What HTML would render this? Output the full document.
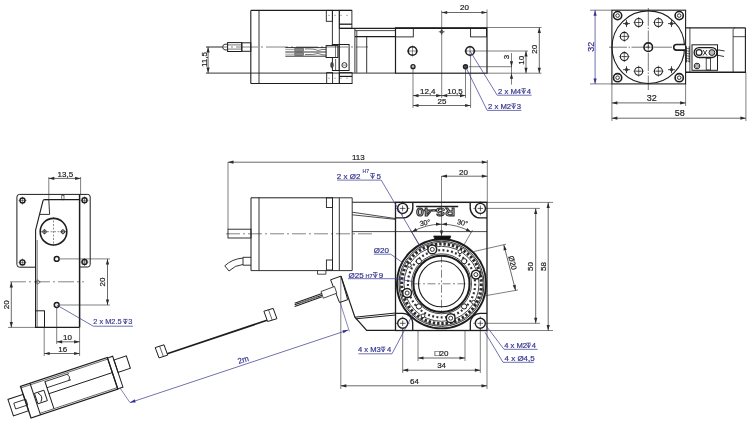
<!DOCTYPE html>
<html><head><meta charset="utf-8"><style>
html,body{margin:0;padding:0;background:#fff;width:750px;height:423px;overflow:hidden}
svg{display:block;will-change:transform}
text{font-family:"Liberation Sans",sans-serif}
</style></head><body>
<svg width="750" height="423" viewBox="0 0 750 423">
<rect width="750" height="423" fill="#fff"/>
<line x1="250.80" y1="10.40" x2="351.90" y2="10.40" stroke="#1e1e1e" stroke-width="1.1"/>
<line x1="250.80" y1="83.50" x2="352.10" y2="83.50" stroke="#1e1e1e" stroke-width="1.1"/>
<line x1="250.80" y1="10.40" x2="250.80" y2="83.50" stroke="#1e1e1e" stroke-width="1.1"/>
<line x1="259.00" y1="10.40" x2="259.00" y2="83.50" stroke="#1e1e1e" stroke-width="0.9"/>
<rect x="326.30" y="10.40" width="6.10" height="10.90" stroke="#1e1e1e" stroke-width="0.9" fill="none" rx="0"/>
<rect x="326.70" y="72.60" width="5.90" height="10.90" stroke="#1e1e1e" stroke-width="0.9" fill="none" rx="0"/>
<line x1="332.40" y1="10.40" x2="332.40" y2="46.00" stroke="#1e1e1e" stroke-width="0.9"/>
<line x1="339.30" y1="10.40" x2="339.30" y2="83.50" stroke="#1e1e1e" stroke-width="0.9"/>
<rect x="339.30" y="10.40" width="12.60" height="17.90" stroke="#1e1e1e" stroke-width="0.9" fill="none" rx="0"/>
<line x1="339.30" y1="24.20" x2="351.90" y2="24.20" stroke="#1e1e1e" stroke-width="1.3"/>
<rect x="339.30" y="72.60" width="12.80" height="10.90" stroke="#1e1e1e" stroke-width="0.9" fill="none" rx="0"/>
<line x1="339.30" y1="76.40" x2="352.10" y2="76.40" stroke="#1e1e1e" stroke-width="1.2"/>
<line x1="328.50" y1="15.30" x2="350.00" y2="15.30" stroke="#1e1e1e" stroke-width="0.7" stroke-dasharray="1,5"/>
<line x1="328.50" y1="78.20" x2="350.00" y2="78.20" stroke="#1e1e1e" stroke-width="0.7" stroke-dasharray="1,5"/>
<line x1="339.30" y1="28.40" x2="487.00" y2="28.40" stroke="#1e1e1e" stroke-width="1.3"/>
<line x1="355.00" y1="30.60" x2="395.50" y2="30.60" stroke="#1e1e1e" stroke-width="0.8"/>
<line x1="355.00" y1="36.60" x2="395.50" y2="36.60" stroke="#1e1e1e" stroke-width="1.4"/>
<line x1="354.90" y1="28.40" x2="354.90" y2="72.80" stroke="#1e1e1e" stroke-width="0.9"/>
<line x1="356.80" y1="30.60" x2="356.80" y2="72.80" stroke="#1e1e1e" stroke-width="0.8"/>
<line x1="366.70" y1="36.60" x2="366.70" y2="72.80" stroke="#1e1e1e" stroke-width="0.9"/>
<line x1="206.00" y1="73.10" x2="395.50" y2="73.10" stroke="#1e1e1e" stroke-width="0.9"/>
<rect x="332.40" y="44.50" width="16.70" height="26.00" stroke="#1e1e1e" stroke-width="1.0" fill="none" rx="0"/>
<line x1="339.10" y1="44.50" x2="339.10" y2="70.50" stroke="#1e1e1e" stroke-width="0.8"/>
<circle cx="344.40" cy="65.10" r="2.50" stroke="#1e1e1e" stroke-width="0.9" fill="none"/>
<line x1="342.60" y1="65.10" x2="346.20" y2="65.10" stroke="#1e1e1e" stroke-width="0.5"/>
<rect x="326.10" y="45.60" width="11.80" height="11.90" stroke="#1e1e1e" stroke-width="1.0" fill="#fff" rx="0"/>
<line x1="335.50" y1="46.00" x2="335.50" y2="57.00" stroke="#1e1e1e" stroke-width="0.6"/>
<ellipse cx="332" cy="65.1" rx="1.7" ry="3.0" fill="#444"/>
<line x1="335.60" y1="59.00" x2="335.60" y2="70.50" stroke="#1e1e1e" stroke-width="0.7"/>
<path d="M285.3,47.6 L326.1,47.6 M285.3,52 L326.1,52 M285.3,56.2 L326.1,56.2" stroke="#1e1e1e" stroke-width="0.9" fill="none"/>
<path d="M285.3,49.6 L294.8,49.6 M285.3,54.2 L294.8,54.2" stroke="#666" stroke-width="0.6" fill="none"/>
<rect x="294.80" y="48.40" width="8.80" height="2.80" stroke="#444" stroke-width="0.5" fill="#888" rx="0"/>
<rect x="294.80" y="52.80" width="8.80" height="2.80" stroke="#444" stroke-width="0.5" fill="#888" rx="0"/>
<path d="M305,49 Q314,48.5 318,50.5 Q322,49 326,49.5 M305,54.5 Q314,55 318,53.5 Q322,55 326,55" stroke="#1e1e1e" stroke-width="0.6" fill="none"/>
<rect x="395.50" y="27.80" width="91.50" height="45.40" stroke="#1e1e1e" stroke-width="1.2" fill="none" rx="0"/>
<rect x="395.50" y="28.50" width="17.80" height="8.40" stroke="#1e1e1e" stroke-width="0.9" fill="none" rx="0"/>
<rect x="470.60" y="28.50" width="15.90" height="8.40" stroke="#1e1e1e" stroke-width="0.9" fill="none" rx="0"/>
<circle cx="412.50" cy="51.00" r="4.30" stroke="#1e1e1e" stroke-width="1.6" fill="none"/>
<line x1="406.95" y1="51.00" x2="418.05" y2="51.00" stroke="#1e1e1e" stroke-width="0.5"/>
<line x1="412.50" y1="45.45" x2="412.50" y2="56.55" stroke="#1e1e1e" stroke-width="0.5"/>
<circle cx="470.00" cy="51.00" r="4.30" stroke="#1e1e1e" stroke-width="1.6" fill="none"/>
<line x1="464.45" y1="51.00" x2="475.55" y2="51.00" stroke="#1e1e1e" stroke-width="0.5"/>
<line x1="470.00" y1="45.45" x2="470.00" y2="56.55" stroke="#1e1e1e" stroke-width="0.5"/>
<circle cx="413.00" cy="66.70" r="2.00" stroke="#1e1e1e" stroke-width="1.3" fill="#ccc"/>
<circle cx="465.50" cy="66.70" r="2.00" stroke="#1e1e1e" stroke-width="1.4" fill="#666"/>
<circle cx="441.70" cy="31.80" r="1.40" stroke="#1e1e1e" stroke-width="0.7" fill="none"/>
<line x1="441.70" y1="28.80" x2="441.70" y2="34.80" stroke="#1e1e1e" stroke-width="0.6"/>
<line x1="438.70" y1="31.80" x2="444.70" y2="31.80" stroke="#1e1e1e" stroke-width="0.6"/>
<line x1="206.00" y1="47.00" x2="368.00" y2="47.00" stroke="#1e1e1e" stroke-width="0.55" stroke-dasharray="22,3,2,3"/>
<rect x="241.80" y="42.80" width="9.00" height="8.50" stroke="#1e1e1e" stroke-width="1.0" fill="none" rx="0"/>
<rect x="227.60" y="42.60" width="14.20" height="8.90" stroke="#1e1e1e" stroke-width="1.0" fill="none" rx="0"/>
<line x1="227.60" y1="44.90" x2="241.80" y2="44.90" stroke="#1e1e1e" stroke-width="0.6"/>
<line x1="227.60" y1="49.10" x2="241.80" y2="49.10" stroke="#1e1e1e" stroke-width="0.6"/>
<path d="M227.6,44.2 L225,44.2 Q222.7,44.5 222.7,47 Q222.7,49.6 225,49.9 L227.6,49.9" stroke="#1e1e1e" stroke-width="0.9" fill="none"/>
<line x1="206.00" y1="47.00" x2="222.00" y2="47.00" stroke="#2a2a2a" stroke-width="0.6"/>
<line x1="208.10" y1="47.00" x2="208.10" y2="73.10" stroke="#2a2a2a" stroke-width="0.7"/>
<path d="M208.10,73.10 L206.50,67.60 L209.70,67.60 Z" fill="#2a2a2a"/>
<path d="M208.10,47.00 L209.70,52.50 L206.50,52.50 Z" fill="#2a2a2a"/>
<text x="207.00" y="59.50" font-size="8" fill="#1e1e1e" text-anchor="middle" transform="rotate(-90 207.00 59.50)" stroke="#1e1e1e" stroke-width="0.2">11,5</text>
<line x1="441.70" y1="10.50" x2="441.70" y2="98.00" stroke="#2a2a2a" stroke-width="0.6"/>
<line x1="487.00" y1="9.50" x2="487.00" y2="27.50" stroke="#2a2a2a" stroke-width="0.6"/>
<line x1="441.70" y1="12.50" x2="487.00" y2="12.50" stroke="#2a2a2a" stroke-width="0.7"/>
<path d="M487.00,12.50 L481.50,14.10 L481.50,10.90 Z" fill="#2a2a2a"/>
<path d="M441.70,12.50 L447.20,10.90 L447.20,14.10 Z" fill="#2a2a2a"/>
<text x="464.40" y="10.00" font-size="8" fill="#1e1e1e" text-anchor="middle" stroke="#1e1e1e" stroke-width="0.2">20</text>
<line x1="487.00" y1="27.50" x2="541.50" y2="27.50" stroke="#2a2a2a" stroke-width="0.6"/>
<line x1="487.00" y1="73.20" x2="541.50" y2="73.20" stroke="#2a2a2a" stroke-width="0.6"/>
<line x1="539.30" y1="27.50" x2="539.30" y2="73.20" stroke="#2a2a2a" stroke-width="0.7"/>
<path d="M539.30,73.20 L537.70,67.70 L540.90,67.70 Z" fill="#2a2a2a"/>
<path d="M539.30,27.50 L540.90,33.00 L537.70,33.00 Z" fill="#2a2a2a"/>
<text x="537.30" y="49.20" font-size="8" fill="#1e1e1e" text-anchor="middle" transform="rotate(-90 537.30 49.20)" stroke="#1e1e1e" stroke-width="0.2">20</text>
<line x1="474.00" y1="51.00" x2="528.00" y2="51.00" stroke="#2a2a2a" stroke-width="0.6"/>
<line x1="469.00" y1="66.70" x2="512.00" y2="66.70" stroke="#2a2a2a" stroke-width="0.6"/>
<line x1="526.00" y1="51.00" x2="526.00" y2="73.20" stroke="#2a2a2a" stroke-width="0.7"/>
<path d="M526.00,73.20 L524.40,67.70 L527.60,67.70 Z" fill="#2a2a2a"/>
<path d="M526.00,51.00 L527.60,56.50 L524.40,56.50 Z" fill="#2a2a2a"/>
<text x="524.50" y="60.30" font-size="8" fill="#1e1e1e" text-anchor="middle" transform="rotate(-90 524.50 60.30)" stroke="#1e1e1e" stroke-width="0.2">10</text>
<line x1="511.50" y1="53.00" x2="511.50" y2="84.60" stroke="#2a2a2a" stroke-width="0.6"/>
<path d="M511.50,66.70 L509.90,61.20 L513.10,61.20 Z" fill="#2a2a2a"/>
<path d="M511.50,73.20 L513.10,78.70 L509.90,78.70 Z" fill="#2a2a2a"/>
<text x="509.30" y="56.90" font-size="8" fill="#1e1e1e" text-anchor="middle" transform="rotate(-90 509.30 56.90)" stroke="#1e1e1e" stroke-width="0.2">3</text>
<line x1="413.00" y1="66.70" x2="413.00" y2="108.00" stroke="#2a2a2a" stroke-width="0.6"/>
<line x1="465.50" y1="66.70" x2="465.50" y2="98.00" stroke="#2a2a2a" stroke-width="0.6"/>
<line x1="470.60" y1="55.00" x2="470.60" y2="108.00" stroke="#2a2a2a" stroke-width="0.6"/>
<line x1="413.00" y1="95.60" x2="465.50" y2="95.60" stroke="#2a2a2a" stroke-width="0.7"/>
<path d="M413.00,95.60 L418.50,94.00 L418.50,97.20 Z" fill="#2a2a2a"/>
<path d="M465.50,95.60 L460.00,97.20 L460.00,94.00 Z" fill="#2a2a2a"/>
<path d="M441.70,95.60 L436.20,97.20 L436.20,94.00 Z" fill="#2a2a2a"/>
<path d="M441.70,95.60 L447.20,94.00 L447.20,97.20 Z" fill="#2a2a2a"/>
<text x="427.80" y="93.90" font-size="8" fill="#1e1e1e" text-anchor="middle" stroke="#1e1e1e" stroke-width="0.2">12,4</text>
<text x="455.00" y="93.90" font-size="8" fill="#1e1e1e" text-anchor="middle" stroke="#1e1e1e" stroke-width="0.2">10,5</text>
<line x1="413.00" y1="105.50" x2="470.60" y2="105.50" stroke="#2a2a2a" stroke-width="0.7"/>
<path d="M470.60,105.50 L465.10,107.10 L465.10,103.90 Z" fill="#2a2a2a"/>
<path d="M413.00,105.50 L418.50,103.90 L418.50,107.10 Z" fill="#2a2a2a"/>
<text x="442.00" y="103.60" font-size="8" fill="#1e1e1e" text-anchor="middle" stroke="#1e1e1e" stroke-width="0.2">25</text>
<path d="M470,51 L497.2,95.2 L531.6,95.2" stroke="#35358f" stroke-width="0.7" fill="none"/>
<text x="498.00" y="93.50" font-size="7.7" fill="#35358f" text-anchor="start" stroke="#35358f" stroke-width="0.2">2 x M4</text>
<path d="M521.50,88.70 h4.32 M523.66,88.70 v4.80 M521.55,89.90 L523.66,93.50 L525.58,89.90" stroke="#35358f" stroke-width="0.8" fill="none"/>
<text x="526.80" y="93.50" font-size="7.7" fill="#35358f" text-anchor="start" stroke="#35358f" stroke-width="0.2">4</text>
<path d="M465.5,66.7 L487.2,110.4 L521.4,110.4" stroke="#35358f" stroke-width="0.7" fill="none"/>
<text x="488.00" y="108.60" font-size="7.7" fill="#35358f" text-anchor="start" stroke="#35358f" stroke-width="0.2">2 x M2</text>
<path d="M511.50,103.80 h4.32 M513.66,103.80 v4.80 M511.55,105.00 L513.66,108.60 L515.58,105.00" stroke="#35358f" stroke-width="0.8" fill="none"/>
<text x="516.80" y="108.60" font-size="7.7" fill="#35358f" text-anchor="start" stroke="#35358f" stroke-width="0.2">3</text>
<rect x="611.90" y="10.20" width="73.70" height="73.70" stroke="#1e1e1e" stroke-width="1.1" fill="none" rx="0"/>
<circle cx="648.30" cy="47.20" r="36.30" stroke="#1e1e1e" stroke-width="1.1" fill="none"/>
<line x1="648.30" y1="8.00" x2="648.30" y2="90.00" stroke="#1e1e1e" stroke-width="0.6" stroke-dasharray="18,1.5,1.5,1.5"/>
<line x1="609.00" y1="47.20" x2="686.00" y2="47.20" stroke="#1e1e1e" stroke-width="0.6" stroke-dasharray="18,1.5,1.5,1.5"/>
<circle cx="617.60" cy="15.60" r="4.10" stroke="#1e1e1e" stroke-width="1.6" fill="none"/>
<circle cx="617.60" cy="15.60" r="1.80" stroke="#1e1e1e" stroke-width="0.9" fill="none"/>
<circle cx="679.20" cy="15.60" r="4.10" stroke="#1e1e1e" stroke-width="1.6" fill="none"/>
<circle cx="679.20" cy="15.60" r="1.80" stroke="#1e1e1e" stroke-width="0.9" fill="none"/>
<circle cx="617.60" cy="77.70" r="4.10" stroke="#1e1e1e" stroke-width="1.6" fill="none"/>
<circle cx="617.60" cy="77.70" r="1.80" stroke="#1e1e1e" stroke-width="0.9" fill="none"/>
<circle cx="679.20" cy="77.70" r="4.10" stroke="#1e1e1e" stroke-width="1.6" fill="none"/>
<circle cx="679.20" cy="77.70" r="1.80" stroke="#1e1e1e" stroke-width="0.9" fill="none"/>
<circle cx="648.30" cy="47.20" r="4.30" stroke="#1e1e1e" stroke-width="1.6" fill="none"/>
<line x1="645.80" y1="47.20" x2="650.80" y2="47.20" stroke="#1e1e1e" stroke-width="0.6"/>
<line x1="648.30" y1="44.70" x2="648.30" y2="49.70" stroke="#1e1e1e" stroke-width="0.6"/>
<circle cx="638.70" cy="22.50" r="4.00" stroke="#1e1e1e" stroke-width="1.1" fill="none"/>
<line x1="636.20" y1="22.50" x2="641.20" y2="22.50" stroke="#1e1e1e" stroke-width="0.6"/>
<line x1="638.70" y1="17.00" x2="638.70" y2="28.00" stroke="#1e1e1e" stroke-width="0.6"/>
<line x1="633.20" y1="22.50" x2="644.20" y2="22.50" stroke="#1e1e1e" stroke-width="0.4"/>
<circle cx="658.40" cy="22.50" r="4.00" stroke="#1e1e1e" stroke-width="1.1" fill="none"/>
<line x1="655.90" y1="22.50" x2="660.90" y2="22.50" stroke="#1e1e1e" stroke-width="0.6"/>
<line x1="658.40" y1="17.00" x2="658.40" y2="28.00" stroke="#1e1e1e" stroke-width="0.6"/>
<line x1="652.90" y1="22.50" x2="663.90" y2="22.50" stroke="#1e1e1e" stroke-width="0.4"/>
<circle cx="624.30" cy="36.40" r="4.00" stroke="#1e1e1e" stroke-width="1.1" fill="none"/>
<line x1="621.80" y1="36.40" x2="626.80" y2="36.40" stroke="#1e1e1e" stroke-width="0.6"/>
<line x1="624.30" y1="30.90" x2="624.30" y2="41.90" stroke="#1e1e1e" stroke-width="0.6"/>
<line x1="618.80" y1="36.40" x2="629.80" y2="36.40" stroke="#1e1e1e" stroke-width="0.4"/>
<circle cx="624.30" cy="56.60" r="4.00" stroke="#1e1e1e" stroke-width="1.1" fill="none"/>
<line x1="621.80" y1="56.60" x2="626.80" y2="56.60" stroke="#1e1e1e" stroke-width="0.6"/>
<line x1="624.30" y1="51.10" x2="624.30" y2="62.10" stroke="#1e1e1e" stroke-width="0.6"/>
<line x1="618.80" y1="56.60" x2="629.80" y2="56.60" stroke="#1e1e1e" stroke-width="0.4"/>
<circle cx="638.70" cy="71.20" r="4.00" stroke="#1e1e1e" stroke-width="1.1" fill="none"/>
<line x1="636.20" y1="71.20" x2="641.20" y2="71.20" stroke="#1e1e1e" stroke-width="0.6"/>
<line x1="638.70" y1="65.70" x2="638.70" y2="76.70" stroke="#1e1e1e" stroke-width="0.6"/>
<line x1="633.20" y1="71.20" x2="644.20" y2="71.20" stroke="#1e1e1e" stroke-width="0.4"/>
<circle cx="658.40" cy="71.20" r="4.00" stroke="#1e1e1e" stroke-width="1.1" fill="none"/>
<line x1="655.90" y1="71.20" x2="660.90" y2="71.20" stroke="#1e1e1e" stroke-width="0.6"/>
<line x1="658.40" y1="65.70" x2="658.40" y2="76.70" stroke="#1e1e1e" stroke-width="0.6"/>
<line x1="652.90" y1="71.20" x2="663.90" y2="71.20" stroke="#1e1e1e" stroke-width="0.4"/>
<line x1="623.00" y1="23.60" x2="630.00" y2="23.60" stroke="#1e1e1e" stroke-width="0.8"/>
<line x1="626.50" y1="20.10" x2="626.50" y2="27.10" stroke="#1e1e1e" stroke-width="0.8"/>
<circle cx="626.50" cy="23.60" r="1.30" stroke="#1e1e1e" stroke-width="0.9" fill="none"/>
<line x1="668.00" y1="23.60" x2="675.00" y2="23.60" stroke="#1e1e1e" stroke-width="0.8"/>
<line x1="671.50" y1="20.10" x2="671.50" y2="27.10" stroke="#1e1e1e" stroke-width="0.8"/>
<circle cx="671.50" cy="23.60" r="1.30" stroke="#1e1e1e" stroke-width="0.9" fill="none"/>
<line x1="623.00" y1="69.70" x2="630.00" y2="69.70" stroke="#1e1e1e" stroke-width="0.8"/>
<line x1="626.50" y1="66.20" x2="626.50" y2="73.20" stroke="#1e1e1e" stroke-width="0.8"/>
<circle cx="626.50" cy="69.70" r="1.30" stroke="#1e1e1e" stroke-width="0.9" fill="none"/>
<line x1="668.00" y1="69.70" x2="675.00" y2="69.70" stroke="#1e1e1e" stroke-width="0.8"/>
<line x1="671.50" y1="66.20" x2="671.50" y2="73.20" stroke="#1e1e1e" stroke-width="0.8"/>
<circle cx="671.50" cy="69.70" r="1.30" stroke="#1e1e1e" stroke-width="0.9" fill="none"/>
<path d="M685,44.5 L676.5,44.5 A2.8,2.8 0 0 0 676.5,50.1 L685,50.1" stroke="#1e1e1e" stroke-width="1.6" fill="#fff"/>
<line x1="685.70" y1="27.80" x2="745.40" y2="27.80" stroke="#1e1e1e" stroke-width="1.3"/>
<line x1="745.40" y1="27.80" x2="745.40" y2="73.10" stroke="#1e1e1e" stroke-width="1.1"/>
<line x1="685.70" y1="72.30" x2="745.40" y2="72.30" stroke="#1e1e1e" stroke-width="1.4"/>
<line x1="689.90" y1="27.80" x2="689.90" y2="72.30" stroke="#1e1e1e" stroke-width="0.8"/>
<line x1="733.10" y1="29.20" x2="733.10" y2="72.30" stroke="#1e1e1e" stroke-width="0.8"/>
<line x1="733.10" y1="36.70" x2="745.40" y2="36.70" stroke="#1e1e1e" stroke-width="0.8"/>
<line x1="733.10" y1="29.20" x2="735.00" y2="27.80" stroke="#1e1e1e" stroke-width="0.6"/>
<rect x="692.00" y="44.80" width="25.50" height="25.50" stroke="#1e1e1e" stroke-width="1.0" fill="none" rx="0"/>
<path d="M699.1,47.6 L711.9,47.6 A4.95,4.95 0 0 1 711.9,57.5 L699.1,57.5 A4.95,4.95 0 0 1 699.1,47.6 Z" stroke="#1e1e1e" stroke-width="1.3" fill="none"/>
<circle cx="699.10" cy="52.55" r="2.90" stroke="#1e1e1e" stroke-width="1.2" fill="none"/>
<circle cx="711.90" cy="52.55" r="2.90" stroke="#1e1e1e" stroke-width="1.0" fill="#bbb"/>
<line x1="703.00" y1="50.00" x2="707.00" y2="55.50" stroke="#1e1e1e" stroke-width="0.9"/>
<line x1="703.00" y1="55.50" x2="707.00" y2="50.00" stroke="#1e1e1e" stroke-width="0.9"/>
<path d="M716,50.5 L719,50 L724.6,51 M716,55 L719,55.5 L724,56.5" stroke="#1e1e1e" stroke-width="0.9" fill="none"/>
<circle cx="697.00" cy="66.00" r="2.80" stroke="#1e1e1e" stroke-width="1.0" fill="none"/>
<circle cx="697.00" cy="66.00" r="1.40" stroke="#1e1e1e" stroke-width="0.6" fill="none"/>
<rect x="706.20" y="58.20" width="4.30" height="11.80" stroke="#1e1e1e" stroke-width="0.8" fill="none" rx="0"/>
<line x1="686.50" y1="46.20" x2="686.50" y2="62.50" stroke="#1e1e1e" stroke-width="0.8"/>
<line x1="689.20" y1="46.20" x2="689.20" y2="62.50" stroke="#1e1e1e" stroke-width="0.8"/>
<line x1="685.50" y1="48.00" x2="690.00" y2="49.00" stroke="#1e1e1e" stroke-width="0.6"/>
<line x1="685.50" y1="50.50" x2="690.00" y2="51.50" stroke="#1e1e1e" stroke-width="0.6"/>
<line x1="685.50" y1="53.00" x2="690.00" y2="54.00" stroke="#1e1e1e" stroke-width="0.6"/>
<line x1="685.50" y1="55.50" x2="690.00" y2="56.50" stroke="#1e1e1e" stroke-width="0.6"/>
<line x1="685.50" y1="58.00" x2="690.00" y2="59.00" stroke="#1e1e1e" stroke-width="0.6"/>
<line x1="685.50" y1="60.50" x2="690.00" y2="61.50" stroke="#1e1e1e" stroke-width="0.6"/>
<line x1="590.00" y1="10.20" x2="611.90" y2="10.20" stroke="#2a2a2a" stroke-width="0.6"/>
<line x1="590.00" y1="83.90" x2="611.90" y2="83.90" stroke="#2a2a2a" stroke-width="0.6"/>
<line x1="595.10" y1="10.20" x2="595.10" y2="83.90" stroke="#35358f" stroke-width="0.7"/>
<path d="M595.10,83.90 L593.50,78.40 L596.70,78.40 Z" fill="#35358f"/>
<path d="M595.10,10.20 L596.70,15.70 L593.50,15.70 Z" fill="#35358f"/>
<text x="594.00" y="46.80" font-size="9" fill="#35358f" text-anchor="middle" transform="rotate(-90 594.00 46.80)" stroke="#35358f" stroke-width="0.2">32</text>
<line x1="611.90" y1="84.00" x2="611.90" y2="121.00" stroke="#2a2a2a" stroke-width="0.6"/>
<line x1="685.60" y1="84.00" x2="685.60" y2="106.00" stroke="#2a2a2a" stroke-width="0.6"/>
<line x1="745.90" y1="72.40" x2="745.90" y2="121.00" stroke="#2a2a2a" stroke-width="0.6"/>
<line x1="611.90" y1="102.90" x2="685.60" y2="102.90" stroke="#2a2a2a" stroke-width="0.7"/>
<path d="M685.60,102.90 L680.10,104.50 L680.10,101.30 Z" fill="#2a2a2a"/>
<path d="M611.90,102.90 L617.40,101.30 L617.40,104.50 Z" fill="#2a2a2a"/>
<text x="651.80" y="101.00" font-size="9" fill="#1e1e1e" text-anchor="middle" stroke="#1e1e1e" stroke-width="0.2">32</text>
<line x1="611.90" y1="118.20" x2="745.90" y2="118.20" stroke="#2a2a2a" stroke-width="0.7"/>
<path d="M745.90,118.20 L740.40,119.80 L740.40,116.60 Z" fill="#2a2a2a"/>
<path d="M611.90,118.20 L617.40,116.60 L617.40,119.80 Z" fill="#2a2a2a"/>
<text x="679.80" y="116.00" font-size="9" fill="#1e1e1e" text-anchor="middle" stroke="#1e1e1e" stroke-width="0.2">58</text>
<line x1="251.00" y1="197.80" x2="327.50" y2="197.80" stroke="#1e1e1e" stroke-width="1.0"/>
<line x1="251.00" y1="197.80" x2="251.00" y2="270.60" stroke="#1e1e1e" stroke-width="1.0"/>
<line x1="259.00" y1="197.50" x2="259.00" y2="270.50" stroke="#1e1e1e" stroke-width="0.9"/>
<rect x="326.40" y="197.80" width="6.10" height="9.70" stroke="#1e1e1e" stroke-width="0.9" fill="none" rx="0"/>
<rect x="326.40" y="260.00" width="6.10" height="10.00" stroke="#1e1e1e" stroke-width="0.9" fill="none" rx="0"/>
<line x1="332.50" y1="197.80" x2="332.50" y2="270.50" stroke="#1e1e1e" stroke-width="0.9"/>
<line x1="339.30" y1="197.80" x2="339.30" y2="270.50" stroke="#1e1e1e" stroke-width="0.9"/>
<line x1="352.20" y1="197.80" x2="352.20" y2="270.50" stroke="#1e1e1e" stroke-width="0.9"/>
<line x1="327.50" y1="197.80" x2="352.20" y2="197.80" stroke="#1e1e1e" stroke-width="0.9"/>
<line x1="251.00" y1="270.60" x2="352.20" y2="270.60" stroke="#1e1e1e" stroke-width="0.9"/>
<rect x="228.00" y="229.20" width="23.00" height="8.80" stroke="#1e1e1e" stroke-width="0.9" fill="none" rx="0"/>
<line x1="226.00" y1="233.80" x2="372.00" y2="233.80" stroke="#1e1e1e" stroke-width="0.55" stroke-dasharray="14,3,2,3"/>
<path d="M243,257.3 L251,257.3 M243,265.2 L251,265.2 M243,257.3 L243,265.2" stroke="#1e1e1e" stroke-width="0.9" fill="none"/>
<path d="M243,258 Q232,259 224.8,265.8 M243,264.5 Q235,265 229,271 M224.8,265.8 L229,271" stroke="#1e1e1e" stroke-width="0.9" fill="none"/>
<line x1="228.00" y1="162.00" x2="228.00" y2="229.00" stroke="#2a2a2a" stroke-width="0.6"/>
<line x1="487.30" y1="160.00" x2="487.30" y2="202.00" stroke="#2a2a2a" stroke-width="0.6"/>
<line x1="228.00" y1="162.20" x2="487.30" y2="162.20" stroke="#2a2a2a" stroke-width="0.7"/>
<path d="M487.30,162.20 L481.80,163.80 L481.80,160.60 Z" fill="#2a2a2a"/>
<path d="M228.00,162.20 L233.50,160.60 L233.50,163.80 Z" fill="#2a2a2a"/>
<text x="358.30" y="160.00" font-size="8" fill="#1e1e1e" text-anchor="middle" stroke="#1e1e1e" stroke-width="0.2">113</text>
<line x1="352.20" y1="202.20" x2="487.00" y2="202.20" stroke="#1e1e1e" stroke-width="1.1"/>
<line x1="352.20" y1="212.20" x2="396.00" y2="218.60" stroke="#1e1e1e" stroke-width="0.8"/>
<line x1="352.20" y1="214.80" x2="396.00" y2="219.40" stroke="#1e1e1e" stroke-width="0.8"/>
<line x1="352.20" y1="231.60" x2="487.00" y2="231.60" stroke="#1e1e1e" stroke-width="0.8"/>
<line x1="317.50" y1="270.80" x2="317.50" y2="274.20" stroke="#1e1e1e" stroke-width="0.8"/>
<line x1="325.90" y1="270.80" x2="325.90" y2="274.20" stroke="#1e1e1e" stroke-width="0.8"/>
<line x1="317.50" y1="274.20" x2="325.90" y2="274.20" stroke="#1e1e1e" stroke-width="0.8"/>
<rect x="395.50" y="202.40" width="91.50" height="128.10" stroke="#1e1e1e" stroke-width="1.3" fill="none" rx="0"/>
<circle cx="402.60" cy="208.40" r="5.00" stroke="#1e1e1e" stroke-width="1.4" fill="#fff"/>
<line x1="399.80" y1="208.40" x2="405.40" y2="208.40" stroke="#1e1e1e" stroke-width="0.7"/>
<line x1="402.60" y1="205.60" x2="402.60" y2="211.20" stroke="#1e1e1e" stroke-width="0.7"/>
<line x1="408.10" y1="208.40" x2="409.60" y2="208.40" stroke="#1e1e1e" stroke-width="0.6"/>
<line x1="397.10" y1="208.40" x2="395.60" y2="208.40" stroke="#1e1e1e" stroke-width="0.6"/>
<line x1="402.60" y1="213.90" x2="402.60" y2="215.40" stroke="#1e1e1e" stroke-width="0.6"/>
<line x1="402.60" y1="202.90" x2="402.60" y2="201.40" stroke="#1e1e1e" stroke-width="0.6"/>
<circle cx="480.40" cy="208.40" r="5.00" stroke="#1e1e1e" stroke-width="1.4" fill="#fff"/>
<line x1="477.60" y1="208.40" x2="483.20" y2="208.40" stroke="#1e1e1e" stroke-width="0.7"/>
<line x1="480.40" y1="205.60" x2="480.40" y2="211.20" stroke="#1e1e1e" stroke-width="0.7"/>
<line x1="485.90" y1="208.40" x2="487.40" y2="208.40" stroke="#1e1e1e" stroke-width="0.6"/>
<line x1="474.90" y1="208.40" x2="473.40" y2="208.40" stroke="#1e1e1e" stroke-width="0.6"/>
<line x1="480.40" y1="213.90" x2="480.40" y2="215.40" stroke="#1e1e1e" stroke-width="0.6"/>
<line x1="480.40" y1="202.90" x2="480.40" y2="201.40" stroke="#1e1e1e" stroke-width="0.6"/>
<circle cx="402.70" cy="323.30" r="5.00" stroke="#1e1e1e" stroke-width="1.4" fill="#fff"/>
<line x1="399.90" y1="323.30" x2="405.50" y2="323.30" stroke="#1e1e1e" stroke-width="0.7"/>
<line x1="402.70" y1="320.50" x2="402.70" y2="326.10" stroke="#1e1e1e" stroke-width="0.7"/>
<line x1="408.20" y1="323.30" x2="409.70" y2="323.30" stroke="#1e1e1e" stroke-width="0.6"/>
<line x1="397.20" y1="323.30" x2="395.70" y2="323.30" stroke="#1e1e1e" stroke-width="0.6"/>
<line x1="402.70" y1="328.80" x2="402.70" y2="330.30" stroke="#1e1e1e" stroke-width="0.6"/>
<line x1="402.70" y1="317.80" x2="402.70" y2="316.30" stroke="#1e1e1e" stroke-width="0.6"/>
<circle cx="480.30" cy="323.30" r="5.00" stroke="#1e1e1e" stroke-width="1.4" fill="#fff"/>
<line x1="477.50" y1="323.30" x2="483.10" y2="323.30" stroke="#1e1e1e" stroke-width="0.7"/>
<line x1="480.30" y1="320.50" x2="480.30" y2="326.10" stroke="#1e1e1e" stroke-width="0.7"/>
<line x1="485.80" y1="323.30" x2="487.30" y2="323.30" stroke="#1e1e1e" stroke-width="0.6"/>
<line x1="474.80" y1="323.30" x2="473.30" y2="323.30" stroke="#1e1e1e" stroke-width="0.6"/>
<line x1="480.30" y1="328.80" x2="480.30" y2="330.30" stroke="#1e1e1e" stroke-width="0.6"/>
<line x1="480.30" y1="317.80" x2="480.30" y2="316.30" stroke="#1e1e1e" stroke-width="0.6"/>
<path d="M395.5,217.9 L402.6,217.9 A10.2,10.2 0 0 0 412.8,207.7 L412.8,202.4" stroke="#1e1e1e" stroke-width="1.4" fill="none"/>
<path d="M487,217.9 L480.4,217.9 A10.2,10.2 0 0 1 470.2,207.7 L470.2,202.4" stroke="#1e1e1e" stroke-width="1.4" fill="none"/>
<path d="M395.5,313.3 L402.7,313.3 A10,10 0 0 1 412.7,323.3 L412.7,330.5" stroke="#1e1e1e" stroke-width="1.3" fill="none"/>
<path d="M487,313.3 L480.3,313.3 A10,10 0 0 0 470.3,323.3 L470.3,330.5" stroke="#1e1e1e" stroke-width="1.3" fill="none"/>
<g transform="translate(435.55,211.75) rotate(180)"><text x="-19.35" y="3.85" font-size="10.6" font-weight="bold" fill="#c8c8c8" stroke="#1e1e1e" stroke-width="0.8" textLength="38.7" lengthAdjust="spacingAndGlyphs">RS-40</text></g>
<line x1="416.20" y1="206.50" x2="458.20" y2="206.50" stroke="#1e1e1e" stroke-width="1.3"/>
<path d="M411.70,232.18 A59.6,59.6 0 0 1 471.30,232.18" stroke="#2a2a2a" stroke-width="0.7" fill="none"/>
<path d="M411.70,232.18 L415.66,228.05 L417.26,230.82 Z" fill="#2a2a2a"/>
<path d="M471.30,232.18 L465.74,230.82 L467.34,228.05 Z" fill="#2a2a2a"/>
<path d="M441.50,224.20 L447.00,222.60 L447.00,225.80 Z" fill="#2a2a2a"/>
<path d="M441.50,224.20 L436.00,225.80 L436.00,222.60 Z" fill="#2a2a2a"/>
<line x1="419.50" y1="245.69" x2="410.50" y2="230.11" stroke="#2a2a2a" stroke-width="0.6"/>
<line x1="463.50" y1="245.69" x2="472.50" y2="230.11" stroke="#2a2a2a" stroke-width="0.6"/>
<text x="425.50" y="225.20" font-size="7.2" fill="#1e1e1e" text-anchor="middle" transform="rotate(-12 425.50 225.20)" stroke="#1e1e1e" stroke-width="0.2">30°</text>
<text x="462.00" y="225.20" font-size="7.2" fill="#1e1e1e" text-anchor="middle" transform="rotate(12 462.00 225.20)" stroke="#1e1e1e" stroke-width="0.2">30°</text>
<line x1="441.50" y1="176.00" x2="441.50" y2="236.00" stroke="#2a2a2a" stroke-width="0.6"/>
<path d="M441.50,236.00 L439.90,230.50 L443.10,230.50 Z" fill="#2a2a2a"/>
<line x1="441.50" y1="176.20" x2="487.30" y2="176.20" stroke="#2a2a2a" stroke-width="0.7"/>
<path d="M487.30,176.20 L481.80,177.80 L481.80,174.60 Z" fill="#2a2a2a"/>
<path d="M441.50,176.20 L447.00,174.60 L447.00,177.80 Z" fill="#2a2a2a"/>
<text x="463.50" y="174.60" font-size="8" fill="#1e1e1e" text-anchor="middle" stroke="#1e1e1e" stroke-width="0.2">20</text>
<circle cx="441.50" cy="283.80" r="44.60" stroke="#1e1e1e" stroke-width="1.9" fill="none"/>
<circle cx="441.50" cy="283.80" r="42.60" stroke="#1e1e1e" stroke-width="0.9" fill="none"/>
<circle cx="441.50" cy="283.80" r="39.80" stroke="#2a2a2a" stroke-width="3.0" fill="none" stroke-dasharray="2.4,1.9"/>
<circle cx="441.50" cy="283.80" r="41.50" stroke="#1e1e1e" stroke-width="0.6" fill="none"/>
<circle cx="441.50" cy="283.80" r="37.50" stroke="#1e1e1e" stroke-width="0.8" fill="none"/>
<circle cx="441.50" cy="283.80" r="33.60" stroke="#333" stroke-width="2.2" fill="none" stroke-dasharray="1.9,2.4"/>
<circle cx="441.50" cy="283.80" r="30.00" stroke="#1e1e1e" stroke-width="0.8" fill="none"/>
<circle cx="441.50" cy="283.80" r="28.10" stroke="#1e1e1e" stroke-width="2.0" fill="none"/>
<circle cx="441.50" cy="283.80" r="23.00" stroke="#1e1e1e" stroke-width="1.1" fill="none"/>
<circle cx="450.71" cy="318.19" r="4.40" stroke="#1e1e1e" stroke-width="1.5" fill="#fff"/>
<circle cx="450.71" cy="318.19" r="2.00" stroke="#1e1e1e" stroke-width="0.9" fill="none"/>
<circle cx="407.11" cy="293.01" r="4.40" stroke="#1e1e1e" stroke-width="1.5" fill="#fff"/>
<circle cx="407.11" cy="293.01" r="2.00" stroke="#1e1e1e" stroke-width="0.9" fill="none"/>
<circle cx="432.29" cy="249.41" r="4.40" stroke="#1e1e1e" stroke-width="1.5" fill="#fff"/>
<circle cx="432.29" cy="249.41" r="2.00" stroke="#1e1e1e" stroke-width="0.9" fill="none"/>
<circle cx="475.89" cy="274.59" r="4.40" stroke="#1e1e1e" stroke-width="1.5" fill="#fff"/>
<circle cx="475.89" cy="274.59" r="2.00" stroke="#1e1e1e" stroke-width="0.9" fill="none"/>
<circle cx="464.13" cy="306.43" r="2.60" stroke="#1e1e1e" stroke-width="1.0" fill="#fff"/>
<circle cx="418.87" cy="306.43" r="2.60" stroke="#1e1e1e" stroke-width="1.0" fill="#fff"/>
<circle cx="418.87" cy="261.17" r="2.60" stroke="#1e1e1e" stroke-width="1.0" fill="#fff"/>
<circle cx="464.13" cy="261.17" r="2.60" stroke="#1e1e1e" stroke-width="1.0" fill="#fff"/>
<circle cx="473.54" cy="302.30" r="1.90" stroke="#1e1e1e" stroke-width="0.9" fill="#fff"/>
<circle cx="423.00" cy="315.84" r="1.90" stroke="#1e1e1e" stroke-width="0.9" fill="#fff"/>
<circle cx="409.46" cy="265.30" r="1.90" stroke="#1e1e1e" stroke-width="0.9" fill="#fff"/>
<circle cx="460.00" cy="251.76" r="1.90" stroke="#1e1e1e" stroke-width="0.9" fill="#fff"/>
<path d="M433.7,236.0 L450.8,236.0 L449.5,239.8 L435.0,239.8 Z" stroke="#1e1e1e" stroke-width="0.8" fill="#111"/>
<line x1="441.50" y1="254.80" x2="441.50" y2="312.80" stroke="#1e1e1e" stroke-width="0.55" stroke-dasharray="8,2.5,2,2.5"/>
<line x1="412.50" y1="283.80" x2="470.50" y2="283.80" stroke="#1e1e1e" stroke-width="0.55" stroke-dasharray="8,2.5,2,2.5"/>
<line x1="487.00" y1="208.40" x2="540.00" y2="208.40" stroke="#2a2a2a" stroke-width="0.6"/>
<line x1="487.00" y1="323.30" x2="540.00" y2="323.30" stroke="#2a2a2a" stroke-width="0.6"/>
<line x1="487.00" y1="202.40" x2="553.00" y2="202.40" stroke="#2a2a2a" stroke-width="0.6"/>
<line x1="487.00" y1="330.50" x2="553.00" y2="330.50" stroke="#2a2a2a" stroke-width="0.6"/>
<line x1="535.70" y1="208.40" x2="535.70" y2="323.30" stroke="#2a2a2a" stroke-width="0.7"/>
<path d="M535.70,323.30 L534.10,317.80 L537.30,317.80 Z" fill="#2a2a2a"/>
<path d="M535.70,208.40 L537.30,213.90 L534.10,213.90 Z" fill="#2a2a2a"/>
<text x="533.40" y="266.50" font-size="8" fill="#1e1e1e" text-anchor="middle" transform="rotate(-90 533.40 266.50)" stroke="#1e1e1e" stroke-width="0.2">50</text>
<line x1="548.20" y1="202.40" x2="548.20" y2="330.50" stroke="#2a2a2a" stroke-width="0.7"/>
<path d="M548.20,330.50 L546.60,325.00 L549.80,325.00 Z" fill="#2a2a2a"/>
<path d="M548.20,202.40 L549.80,207.90 L546.60,207.90 Z" fill="#2a2a2a"/>
<text x="545.90" y="266.50" font-size="8" fill="#1e1e1e" text-anchor="middle" transform="rotate(-90 545.90 266.50)" stroke="#1e1e1e" stroke-width="0.2">58</text>
<line x1="474.00" y1="251.50" x2="506.00" y2="244.20" stroke="#2a2a2a" stroke-width="0.6"/>
<line x1="485.60" y1="295.70" x2="518.00" y2="290.00" stroke="#2a2a2a" stroke-width="0.6"/>
<line x1="503.80" y1="244.80" x2="515.60" y2="290.50" stroke="#2a2a2a" stroke-width="0.7"/>
<path d="M515.60,290.50 L512.68,285.57 L515.77,284.77 Z" fill="#2a2a2a"/>
<path d="M503.80,244.80 L506.72,249.73 L503.63,250.53 Z" fill="#2a2a2a"/>
<text x="510.00" y="263.50" font-size="7.6" fill="#1e1e1e" text-anchor="middle" transform="rotate(75 510.00 263.50)" stroke="#1e1e1e" stroke-width="0.2">Ø20</text>
<line x1="418.00" y1="330.50" x2="418.00" y2="361.00" stroke="#2a2a2a" stroke-width="0.6"/>
<line x1="465.00" y1="330.50" x2="465.00" y2="361.00" stroke="#2a2a2a" stroke-width="0.6"/>
<line x1="418.00" y1="358.00" x2="465.00" y2="358.00" stroke="#2a2a2a" stroke-width="0.7"/>
<path d="M465.00,358.00 L459.50,359.60 L459.50,356.40 Z" fill="#2a2a2a"/>
<path d="M418.00,358.00 L423.50,356.40 L423.50,359.60 Z" fill="#2a2a2a"/>
<text x="441.50" y="356.20" font-size="8" fill="#1e1e1e" text-anchor="middle" stroke="#1e1e1e" stroke-width="0.2">□20</text>
<line x1="402.70" y1="329.00" x2="402.70" y2="373.00" stroke="#2a2a2a" stroke-width="0.6"/>
<line x1="480.30" y1="329.00" x2="480.30" y2="373.00" stroke="#2a2a2a" stroke-width="0.6"/>
<line x1="402.70" y1="370.20" x2="480.30" y2="370.20" stroke="#2a2a2a" stroke-width="0.7"/>
<path d="M480.30,370.20 L474.80,371.80 L474.80,368.60 Z" fill="#2a2a2a"/>
<path d="M402.70,370.20 L408.20,368.60 L408.20,371.80 Z" fill="#2a2a2a"/>
<text x="441.60" y="367.80" font-size="8" fill="#1e1e1e" text-anchor="middle" stroke="#1e1e1e" stroke-width="0.2">34</text>
<line x1="340.80" y1="277.00" x2="340.80" y2="389.00" stroke="#2a2a2a" stroke-width="0.6"/>
<line x1="487.00" y1="330.00" x2="487.00" y2="389.00" stroke="#2a2a2a" stroke-width="0.6"/>
<line x1="340.80" y1="385.80" x2="487.00" y2="385.80" stroke="#2a2a2a" stroke-width="0.7"/>
<path d="M487.00,385.80 L481.50,387.40 L481.50,384.20 Z" fill="#2a2a2a"/>
<path d="M340.80,385.80 L346.30,384.20 L346.30,387.40 Z" fill="#2a2a2a"/>
<text x="414.40" y="383.60" font-size="8" fill="#1e1e1e" text-anchor="middle" stroke="#1e1e1e" stroke-width="0.2">64</text>
<path d="M330.6,279.8 L341,276.1 L347.7,299.7 L339.5,302.5 Z" stroke="#1e1e1e" stroke-width="1.0" fill="none"/>
<path d="M341,276.1 L354.9,317.2 L366.7,330.3 L395.5,330.3" stroke="#1e1e1e" stroke-width="1.2" fill="none"/>
<line x1="354.90" y1="317.20" x2="395.50" y2="313.00" stroke="#1e1e1e" stroke-width="1.0"/>
<line x1="355.80" y1="318.80" x2="395.50" y2="315.00" stroke="#1e1e1e" stroke-width="1.0"/>
<path d="M321,291.5 L334.5,286.5 L336.8,293.2 L323.3,298.2 Z" stroke="#1e1e1e" stroke-width="0.8" fill="#fff"/>
<line x1="294.70" y1="303.20" x2="322.00" y2="293.60" stroke="#1e1e1e" stroke-width="1.1"/>
<line x1="294.70" y1="304.80" x2="322.00" y2="295.20" stroke="#1e1e1e" stroke-width="1.1"/>
<line x1="294.70" y1="306.40" x2="322.00" y2="296.80" stroke="#1e1e1e" stroke-width="1.1"/>
<line x1="300.00" y1="303.00" x2="318.00" y2="296.50" stroke="#777" stroke-width="1.2"/>
<line x1="166.50" y1="354.00" x2="267.00" y2="320.30" stroke="#1e1e1e" stroke-width="1.7"/>
<path d="M155.2,347.6 L164,344.8 L167.7,355.1 L159,357.9 Z" stroke="#1e1e1e" stroke-width="1.0" fill="#fff"/>
<line x1="159.60" y1="346.20" x2="163.40" y2="356.50" stroke="#1e1e1e" stroke-width="0.7"/>
<path d="M263.9,311.2 L273.2,308.4 L276.9,318.7 L267.6,321.5 Z" stroke="#1e1e1e" stroke-width="1.0" fill="#fff"/>
<line x1="268.50" y1="309.80" x2="272.20" y2="320.10" stroke="#1e1e1e" stroke-width="0.7"/>
<line x1="340.10" y1="302.50" x2="349.40" y2="331.50" stroke="#35358f" stroke-width="0.6"/>
<line x1="120.00" y1="388.00" x2="130.00" y2="402.60" stroke="#35358f" stroke-width="0.6"/>
<line x1="130.00" y1="402.60" x2="348.20" y2="330.00" stroke="#35358f" stroke-width="0.7"/>
<path d="M348.20,330.00 L343.49,333.25 L342.48,330.22 Z" fill="#35358f"/>
<path d="M130.00,402.60 L134.71,399.35 L135.72,402.38 Z" fill="#35358f"/>
<text x="244.00" y="362.30" font-size="8" fill="#35358f" text-anchor="middle" transform="rotate(-18.4 244.00 362.30)" stroke="#35358f" stroke-width="0.2">2m</text>
<path d="M337,180.1 L381.2,180.1 L421.2,248.0" stroke="#35358f" stroke-width="0.7" fill="none"/>
<text x="336.80" y="178.50" font-size="8" fill="#35358f" text-anchor="start" stroke="#35358f" stroke-width="0.2">2 x Ø2</text>
<text x="362.50" y="173.20" font-size="5.2" fill="#35358f" text-anchor="start" stroke="#35358f" stroke-width="0.1">H7</text>
<path d="M370.30,173.50 h4.50 M372.55,173.50 v5.00 M370.35,174.75 L372.55,178.50 L374.55,174.75" stroke="#35358f" stroke-width="0.8" fill="none"/>
<text x="376.50" y="178.50" font-size="8" fill="#35358f" text-anchor="start" stroke="#35358f" stroke-width="0.2">5</text>
<path d="M373.8,254.2 L390.7,254.2 L403,262.9" stroke="#35358f" stroke-width="0.7" fill="none"/>
<text x="373.80" y="252.50" font-size="8" fill="#35358f" text-anchor="start" stroke="#35358f" stroke-width="0.2">Ø20</text>
<path d="M348,278.7 L395,278.7 L413,281.5" stroke="#35358f" stroke-width="0.7" fill="none"/>
<text x="348.50" y="277.60" font-size="8" fill="#35358f" text-anchor="start" stroke="#35358f" stroke-width="0.2">Ø25</text>
<text x="365.50" y="277.60" font-size="5.5" fill="#35358f" text-anchor="start" stroke="#35358f" stroke-width="0.15">H7</text>
<path d="M373.00,272.60 h4.50 M375.25,272.60 v5.00 M373.05,273.85 L375.25,277.60 L377.25,273.85" stroke="#35358f" stroke-width="0.8" fill="none"/>
<text x="378.80" y="277.60" font-size="8" fill="#35358f" text-anchor="start" stroke="#35358f" stroke-width="0.2">9</text>
<path d="M358.4,353.8 L392,353.8 L413.5,313" stroke="#35358f" stroke-width="0.7" fill="none"/>
<text x="357.90" y="351.90" font-size="7.6" fill="#35358f" text-anchor="start" stroke="#35358f" stroke-width="0.2">4 x M3</text>
<path d="M381.00,347.10 h4.32 M383.16,347.10 v4.80 M381.05,348.30 L383.16,351.90 L385.08,348.30" stroke="#35358f" stroke-width="0.8" fill="none"/>
<text x="387.00" y="351.90" font-size="7.6" fill="#35358f" text-anchor="start" stroke="#35358f" stroke-width="0.2">4</text>
<path d="M537.6,349.3 L504,349.3 L485.8,325.4" stroke="#35358f" stroke-width="0.7" fill="none"/>
<text x="504.20" y="347.90" font-size="7.6" fill="#35358f" text-anchor="start" stroke="#35358f" stroke-width="0.2">4 x M2</text>
<path d="M526.50,343.10 h4.32 M528.66,343.10 v4.80 M526.55,344.30 L528.66,347.90 L530.58,344.30" stroke="#35358f" stroke-width="0.8" fill="none"/>
<text x="531.80" y="347.90" font-size="7.6" fill="#35358f" text-anchor="start" stroke="#35358f" stroke-width="0.2">4</text>
<path d="M533.8,362.3 L503,362.3 L485,332.3" stroke="#35358f" stroke-width="0.7" fill="none"/>
<text x="504.50" y="360.60" font-size="8" fill="#35358f" text-anchor="start" stroke="#35358f" stroke-width="0.2">4 x  Ø4,5</text>
<path d="M36,267.2 L19.5,267.2 Q16.9,267.2 16.9,264.5 L16.9,197 Q16.9,194.4 19.5,194.4 L87.8,194.4 Q90.2,194.4 90.2,197 L90.2,264.5 Q90.2,267.0 87.8,267.0 L79.6,267.0" stroke="#1e1e1e" stroke-width="1.0" fill="none"/>
<circle cx="22.50" cy="200.50" r="2.50" stroke="#1e1e1e" stroke-width="1.4" fill="none"/>
<line x1="18.50" y1="200.50" x2="26.50" y2="200.50" stroke="#1e1e1e" stroke-width="0.5"/>
<line x1="22.50" y1="196.50" x2="22.50" y2="204.50" stroke="#1e1e1e" stroke-width="0.5"/>
<circle cx="84.50" cy="200.30" r="2.50" stroke="#1e1e1e" stroke-width="1.4" fill="none"/>
<line x1="80.50" y1="200.30" x2="88.50" y2="200.30" stroke="#1e1e1e" stroke-width="0.5"/>
<line x1="84.50" y1="196.30" x2="84.50" y2="204.30" stroke="#1e1e1e" stroke-width="0.5"/>
<circle cx="22.40" cy="262.40" r="2.50" stroke="#1e1e1e" stroke-width="1.4" fill="none"/>
<line x1="18.40" y1="262.40" x2="26.40" y2="262.40" stroke="#1e1e1e" stroke-width="0.5"/>
<line x1="22.40" y1="258.40" x2="22.40" y2="266.40" stroke="#1e1e1e" stroke-width="0.5"/>
<circle cx="84.50" cy="262.00" r="2.50" stroke="#1e1e1e" stroke-width="1.4" fill="none"/>
<line x1="80.50" y1="262.00" x2="88.50" y2="262.00" stroke="#1e1e1e" stroke-width="0.5"/>
<line x1="84.50" y1="258.00" x2="84.50" y2="266.00" stroke="#1e1e1e" stroke-width="0.5"/>
<line x1="44.30" y1="199.60" x2="79.60" y2="199.60" stroke="#1e1e1e" stroke-width="1.1"/>
<rect x="61.80" y="195.30" width="2.20" height="4.50" stroke="#1e1e1e" stroke-width="0.6" fill="none" rx="0"/>
<line x1="79.60" y1="194.40" x2="79.60" y2="327.40" stroke="#1e1e1e" stroke-width="1.5"/>
<path d="M44.3,199.6 L48.8,199.6 L49.6,214.4 L39.5,214.4" stroke="#1e1e1e" stroke-width="0.9" fill="none"/>
<path d="M44.3,199.6 Q43.2,200 42.8,201.5 L35.6,230 L35.6,327.4 L79.6,327.4" stroke="#1e1e1e" stroke-width="1.1" fill="none"/>
<line x1="37.20" y1="240.00" x2="37.20" y2="327.40" stroke="#1e1e1e" stroke-width="0.6"/>
<circle cx="53.50" cy="231.70" r="13.30" stroke="#1e1e1e" stroke-width="1.6" fill="none"/>
<circle cx="44.50" cy="231.70" r="1.80" stroke="#1e1e1e" stroke-width="0.9" fill="none"/>
<line x1="41.70" y1="231.70" x2="47.30" y2="231.70" stroke="#1e1e1e" stroke-width="0.5"/>
<line x1="44.50" y1="228.90" x2="44.50" y2="234.50" stroke="#1e1e1e" stroke-width="0.5"/>
<circle cx="62.90" cy="231.70" r="1.80" stroke="#1e1e1e" stroke-width="0.9" fill="none"/>
<line x1="60.10" y1="231.70" x2="65.70" y2="231.70" stroke="#1e1e1e" stroke-width="0.5"/>
<line x1="62.90" y1="228.90" x2="62.90" y2="234.50" stroke="#1e1e1e" stroke-width="0.5"/>
<line x1="53.50" y1="217.00" x2="53.50" y2="246.00" stroke="#1e1e1e" stroke-width="0.5" stroke-dasharray="2,1.5"/>
<line x1="40.00" y1="231.70" x2="67.00" y2="231.70" stroke="#1e1e1e" stroke-width="0.5" stroke-dasharray="2,1.5"/>
<rect x="35.50" y="310.80" width="9.00" height="16.60" stroke="#1e1e1e" stroke-width="1.0" fill="none" rx="0"/>
<circle cx="56.70" cy="258.90" r="2.40" stroke="#1e1e1e" stroke-width="1.5" fill="none"/>
<circle cx="56.70" cy="305.00" r="2.40" stroke="#1e1e1e" stroke-width="1.5" fill="none"/>
<line x1="10.00" y1="281.80" x2="84.00" y2="281.80" stroke="#1e1e1e" stroke-width="0.55" stroke-dasharray="16,3,2,3"/>
<path d="M35.3,282 L37.8,279.8 L40.3,282 L37.8,284.2 Z" stroke="#1e1e1e" stroke-width="0.6" fill="none"/>
<line x1="48.80" y1="177.00" x2="48.80" y2="199.60" stroke="#2a2a2a" stroke-width="0.6"/>
<line x1="80.60" y1="177.00" x2="80.60" y2="194.40" stroke="#2a2a2a" stroke-width="0.6"/>
<line x1="48.80" y1="178.40" x2="80.60" y2="178.40" stroke="#2a2a2a" stroke-width="0.7"/>
<path d="M80.60,178.40 L75.10,180.00 L75.10,176.80 Z" fill="#2a2a2a"/>
<path d="M48.80,178.40 L54.30,176.80 L54.30,180.00 Z" fill="#2a2a2a"/>
<text x="65.40" y="176.60" font-size="8" fill="#1e1e1e" text-anchor="middle" stroke="#1e1e1e" stroke-width="0.2">13,5</text>
<line x1="60.00" y1="258.90" x2="110.00" y2="258.90" stroke="#2a2a2a" stroke-width="0.6"/>
<line x1="60.00" y1="305.00" x2="110.00" y2="305.00" stroke="#2a2a2a" stroke-width="0.6"/>
<line x1="107.50" y1="258.90" x2="107.50" y2="305.00" stroke="#2a2a2a" stroke-width="0.7"/>
<path d="M107.50,305.00 L105.90,299.50 L109.10,299.50 Z" fill="#2a2a2a"/>
<path d="M107.50,258.90 L109.10,264.40 L105.90,264.40 Z" fill="#2a2a2a"/>
<text x="105.00" y="282.00" font-size="8" fill="#1e1e1e" text-anchor="middle" transform="rotate(-90 105.00 282.00)" stroke="#1e1e1e" stroke-width="0.2">20</text>
<line x1="8.00" y1="327.40" x2="35.00" y2="327.40" stroke="#2a2a2a" stroke-width="0.6"/>
<line x1="11.30" y1="282.00" x2="11.30" y2="327.40" stroke="#2a2a2a" stroke-width="0.7"/>
<path d="M11.30,327.40 L9.70,321.90 L12.90,321.90 Z" fill="#2a2a2a"/>
<path d="M11.30,282.00 L12.90,287.50 L9.70,287.50 Z" fill="#2a2a2a"/>
<text x="8.70" y="304.70" font-size="8" fill="#1e1e1e" text-anchor="middle" transform="rotate(-90 8.70 304.70)" stroke="#1e1e1e" stroke-width="0.2">20</text>
<line x1="44.20" y1="327.40" x2="44.20" y2="356.00" stroke="#2a2a2a" stroke-width="0.6"/>
<line x1="56.70" y1="308.00" x2="56.70" y2="344.00" stroke="#2a2a2a" stroke-width="0.6"/>
<line x1="79.60" y1="327.40" x2="79.60" y2="356.00" stroke="#2a2a2a" stroke-width="0.6"/>
<line x1="56.70" y1="341.80" x2="79.60" y2="341.80" stroke="#2a2a2a" stroke-width="0.7"/>
<path d="M79.60,341.80 L74.10,343.40 L74.10,340.20 Z" fill="#2a2a2a"/>
<path d="M56.70,341.80 L62.20,340.20 L62.20,343.40 Z" fill="#2a2a2a"/>
<text x="67.50" y="339.80" font-size="8" fill="#1e1e1e" text-anchor="middle" stroke="#1e1e1e" stroke-width="0.2">10</text>
<line x1="44.20" y1="353.50" x2="79.60" y2="353.50" stroke="#2a2a2a" stroke-width="0.7"/>
<path d="M79.60,353.50 L74.10,355.10 L74.10,351.90 Z" fill="#2a2a2a"/>
<path d="M44.20,353.50 L49.70,351.90 L49.70,355.10 Z" fill="#2a2a2a"/>
<text x="62.70" y="351.80" font-size="8" fill="#1e1e1e" text-anchor="middle" stroke="#1e1e1e" stroke-width="0.2">16</text>
<path d="M56.7,305 L93.3,326.2 L133,326.2" stroke="#35358f" stroke-width="0.7" fill="none"/>
<text x="93.30" y="324.00" font-size="7.4" fill="#35358f" text-anchor="start" stroke="#35358f" stroke-width="0.15">2 x M2.5</text>
<path d="M123.30,319.40 h4.14 M125.37,319.40 v4.60 M123.35,320.55 L125.37,324.00 L127.21,320.55" stroke="#35358f" stroke-width="0.8" fill="none"/>
<text x="128.30" y="324.00" font-size="7.4" fill="#35358f" text-anchor="start" stroke="#35358f" stroke-width="0.15">3</text>
<g transform="translate(20.5,386.4) rotate(-18.4)">
<rect x="0.00" y="0.00" width="91.50" height="33.30" stroke="#1e1e1e" stroke-width="1.3" fill="none" rx="0"/>
<line x1="0.00" y1="1.60" x2="91.50" y2="1.60" stroke="#1e1e1e" stroke-width="0.6"/>
<line x1="10.00" y1="31.70" x2="91.50" y2="31.70" stroke="#1e1e1e" stroke-width="0.6"/>
<line x1="10.00" y1="0.00" x2="10.00" y2="33.30" stroke="#1e1e1e" stroke-width="1.0"/>
<line x1="24.70" y1="2.80" x2="24.70" y2="31.70" stroke="#1e1e1e" stroke-width="1.0"/>
<rect x="11.00" y="11.00" width="10.00" height="11.00" stroke="#1e1e1e" stroke-width="0.9" fill="none" rx="0"/>
<path d="M14.5,12 Q19,16.5 14.5,21" stroke="#1e1e1e" stroke-width="0.9" fill="none"/>
<line x1="24.70" y1="3.20" x2="50.00" y2="3.20" stroke="#1e1e1e" stroke-width="0.8"/>
<line x1="24.70" y1="9.60" x2="50.00" y2="9.60" stroke="#1e1e1e" stroke-width="0.8"/>
<path d="M48,3.2 Q51,6.4 48,9.6" stroke="#1e1e1e" stroke-width="0.8" fill="none"/>
<line x1="24.70" y1="15.90" x2="91.50" y2="15.90" stroke="#1e1e1e" stroke-width="0.9"/>
<rect x="91.50" y="0.50" width="5.50" height="32.50" stroke="#1e1e1e" stroke-width="1.0" fill="none" rx="0"/>
<rect x="97.00" y="4.50" width="13.00" height="13.00" stroke="#1e1e1e" stroke-width="1.0" fill="none" rx="0"/>
<rect x="-16.00" y="8.30" width="16.00" height="17.40" stroke="#1e1e1e" stroke-width="1.0" fill="none" rx="0"/>
<rect x="-11.70" y="13.80" width="12.70" height="6.10" stroke="#1e1e1e" stroke-width="0.8" fill="none" rx="0"/>
</g>
</svg></body></html>
